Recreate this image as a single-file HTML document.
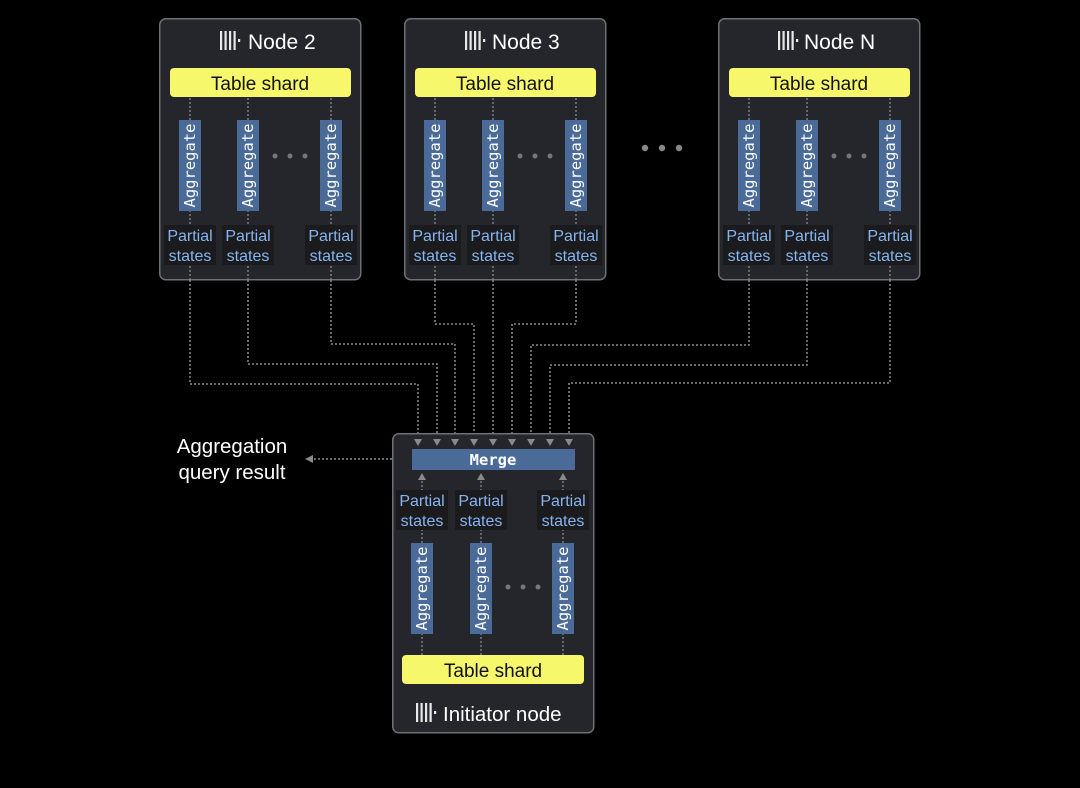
<!DOCTYPE html>
<html><head><meta charset="utf-8"><style>
html,body{margin:0;padding:0;background:#000;}
svg{display:block;}
text{font-family:"Liberation Sans",sans-serif;}
.mono{font-family:"DejaVu Sans Mono","Liberation Mono",monospace;}
</style></head><body>
<svg width="1080" height="788" viewBox="0 0 1080 788" xmlns="http://www.w3.org/2000/svg">
<defs>
<g id="logo">
<rect x="0" y="0" width="2.2" height="19" fill="#e8e8e8"/>
<rect x="4.5" y="0" width="2.2" height="19" fill="#e8e8e8"/>
<rect x="9" y="0" width="2.2" height="19" fill="#e8e8e8"/>
<rect x="13.5" y="0" width="2.2" height="19" fill="#e8e8e8"/>
<rect x="18" y="8" width="2.2" height="3" fill="#e8e8e8"/>
</g>
<g id="col">
<line x1="0" y1="80" x2="0" y2="262" stroke="#8a8a8a" stroke-width="1.3" stroke-dasharray="2 2"/>
<rect x="-11" y="102" width="22" height="91" fill="#4a6a98"/>
<text transform="translate(5,147.5) rotate(-90)" text-anchor="middle" class="mono" font-size="15.5" fill="#fff">Aggregate</text>
<rect x="-26" y="207" width="52" height="40" fill="#1b1b1d"/>
<text x="0" y="223" text-anchor="middle" font-size="16" fill="#86b4f0">Partial</text>
<text x="0" y="243" text-anchor="middle" font-size="16" fill="#86b4f0">states</text>
</g>
<g id="worker">
<rect x="0.75" y="0.75" width="201" height="261" rx="6" fill="#25262b" stroke="#707074" stroke-width="1.5"/>
<rect x="11" y="50" width="181" height="29" rx="4" fill="#f7f76b"/>
<text x="101" y="72" text-anchor="middle" font-size="19" fill="#111">Table shard</text>
<use href="#col" x="31"/>
<use href="#col" x="89"/>
<use href="#col" x="172"/>
<circle cx="116" cy="138" r="2.5" fill="#777"/>
<circle cx="131" cy="138" r="2.5" fill="#777"/>
<circle cx="146" cy="138" r="2.5" fill="#777"/>
</g>
</defs>

<g transform="translate(159,18)"><use href="#worker"/><use href="#logo" x="61" y="13"/><text x="89" y="31" font-size="21" fill="#fff">Node 2</text></g>
<g transform="translate(404,18)"><use href="#worker"/><use href="#logo" x="61" y="13"/><text x="88" y="31" font-size="21" fill="#fff">Node 3</text></g>
<g transform="translate(718,18)"><use href="#worker"/><use href="#logo" x="60" y="13"/><text x="86" y="31" font-size="21" fill="#fff">Node N</text></g>

<circle cx="645" cy="148" r="3.2" fill="#888"/>
<circle cx="662" cy="148" r="3.2" fill="#888"/>
<circle cx="679" cy="148" r="3.2" fill="#888"/>

<g fill="none" stroke="#8a8a8a" stroke-width="1.5" stroke-dasharray="2 2">
<path d="M190 280 V384 H418 V440"/>
<path d="M248 280 V364 H437 V440"/>
<path d="M331 280 V344 H455 V440"/>
<path d="M435 280 V324 H474 V440"/>
<path d="M493 280 V440"/>
<path d="M576 280 V324 H512 V440"/>
<path d="M749 280 V345 H531 V440"/>
<path d="M807 280 V365 H550 V440"/>
<path d="M890 280 V383 H569 V440"/>
<path d="M412 459 H312"/>
</g>

<g transform="translate(392,433)">
<rect x="0.75" y="0.75" width="201" height="299" rx="6" fill="#25262b" stroke="#707074" stroke-width="1.5"/>
<g stroke="#8a8a8a" stroke-width="1.3" stroke-dasharray="2 2">
<line x1="30" y1="44" x2="30" y2="222"/>
<line x1="89" y1="44" x2="89" y2="222"/>
<line x1="171" y1="44" x2="171" y2="222"/>
</g>
<rect x="20" y="16" width="163" height="21" fill="#4a6a98"/>
<text x="101" y="32" text-anchor="middle" class="mono" font-size="15.5" font-weight="bold" fill="#fff">Merge</text>
<g fill="#8a8a8a">
<path d="M26 47 L30 40 L34 47 Z"/><path d="M85 47 L89 40 L93 47 Z"/><path d="M167 47 L171 40 L175 47 Z"/>
</g>
<g>
<rect x="4" y="57" width="52" height="40" fill="#1b1b1d"/><rect x="63" y="57" width="52" height="40" fill="#1b1b1d"/><rect x="145" y="57" width="52" height="40" fill="#1b1b1d"/>
<text x="30" y="73" text-anchor="middle" font-size="16" fill="#86b4f0">Partial</text><text x="30" y="93" text-anchor="middle" font-size="16" fill="#86b4f0">states</text>
<text x="89" y="73" text-anchor="middle" font-size="16" fill="#86b4f0">Partial</text><text x="89" y="93" text-anchor="middle" font-size="16" fill="#86b4f0">states</text>
<text x="171" y="73" text-anchor="middle" font-size="16" fill="#86b4f0">Partial</text><text x="171" y="93" text-anchor="middle" font-size="16" fill="#86b4f0">states</text>
</g>
<rect x="19" y="110" width="22" height="91" fill="#4a6a98"/>
<rect x="78" y="110" width="22" height="91" fill="#4a6a98"/>
<rect x="160" y="110" width="22" height="91" fill="#4a6a98"/>
<text transform="translate(35,155.5) rotate(-90)" text-anchor="middle" class="mono" font-size="15.5" fill="#fff">Aggregate</text>
<text transform="translate(94,155.5) rotate(-90)" text-anchor="middle" class="mono" font-size="15.5" fill="#fff">Aggregate</text>
<text transform="translate(176,155.5) rotate(-90)" text-anchor="middle" class="mono" font-size="15.5" fill="#fff">Aggregate</text>
<circle cx="116" cy="154" r="2.5" fill="#777"/><circle cx="131" cy="154" r="2.5" fill="#777"/><circle cx="146" cy="154" r="2.5" fill="#777"/>
<rect x="10" y="222" width="182" height="29" rx="4" fill="#f7f76b"/>
<text x="101" y="244" text-anchor="middle" font-size="19" fill="#111">Table shard</text>
<use href="#logo" x="24" y="270"/>
<text x="51" y="288" font-size="20.5" fill="#fff">Initiator node</text>
</g>

<g fill="#8a8a8a">
<path d="M414 439 L418 446 L422 439 Z"/><path d="M433 439 L437 446 L441 439 Z"/><path d="M451 439 L455 446 L459 439 Z"/>
<path d="M470 439 L474 446 L478 439 Z"/><path d="M489 439 L493 446 L497 439 Z"/><path d="M508 439 L512 446 L516 439 Z"/>
<path d="M527 439 L531 446 L535 439 Z"/><path d="M546 439 L550 446 L554 439 Z"/><path d="M565 439 L569 446 L573 439 Z"/>
<path d="M313 455 L305 459 L313 463 Z"/>
</g>

<text x="232" y="453" text-anchor="middle" font-size="20.5" fill="#fff">Aggregation</text>
<text x="232" y="479" text-anchor="middle" font-size="20.5" fill="#fff">query result</text>
</svg>
</body></html>
